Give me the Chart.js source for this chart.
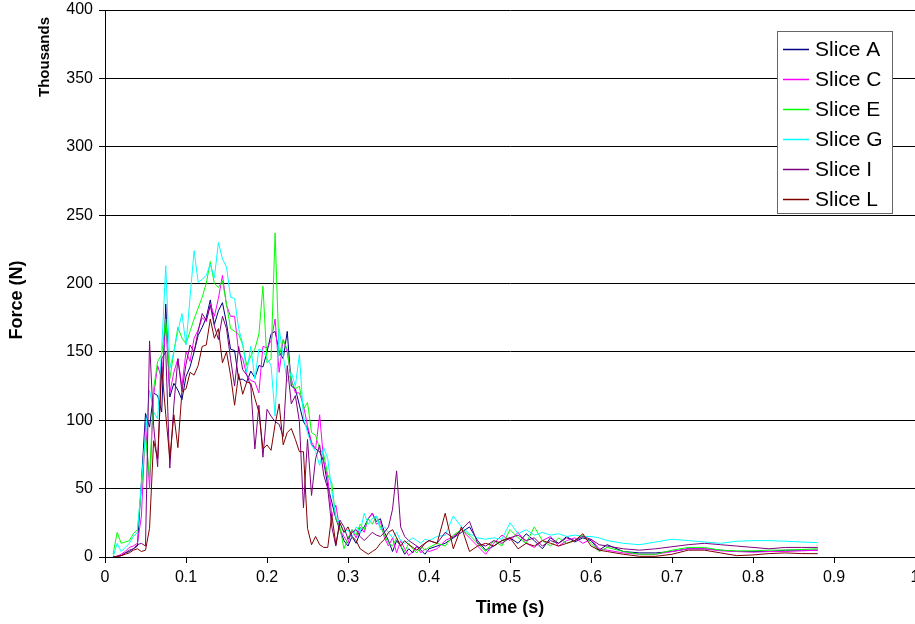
<!DOCTYPE html>
<html>
<head>
<meta charset="utf-8">
<title>Force vs time</title>
<script src="https://cdn.jsdelivr.net/npm/chart.js@4"></script>
<style>
  html, body { margin: 0; padding: 0; background: #fff; overflow: hidden; }
  #wrap { width: 915px; height: 624px; }
</style>
</head>
<body>
<div id="wrap"><canvas id="forceChart"></canvas></div>
<script>
// time (s)
const time = [
  0.010, 0.015, 0.020, 0.025, 0.030, 0.035, 0.040, 0.045, 0.050, 0.055,
  0.060, 0.065, 0.070, 0.075, 0.080, 0.085, 0.090, 0.095, 0.100, 0.105,
  0.110, 0.115, 0.120, 0.125, 0.130, 0.135, 0.140, 0.145, 0.150, 0.155,
  0.160, 0.165, 0.170, 0.175, 0.180, 0.185, 0.190, 0.195, 0.200, 0.205,
  0.210, 0.215, 0.220, 0.225, 0.230, 0.235, 0.240, 0.245, 0.250, 0.255,
  0.260, 0.265, 0.270, 0.275, 0.280, 0.285, 0.290, 0.295, 0.300, 0.305,
  0.310, 0.315, 0.320, 0.325, 0.330, 0.335, 0.340, 0.345, 0.350, 0.355,
  0.360, 0.365, 0.370, 0.375, 0.380, 0.385, 0.390, 0.395, 0.400,
  0.41, 0.42, 0.43, 0.44, 0.45, 0.46, 0.47, 0.48, 0.49, 0.50, 0.51,
  0.52, 0.53, 0.54, 0.55, 0.56, 0.57, 0.58, 0.59, 0.60, 0.61, 0.62,
  0.64, 0.66, 0.68, 0.70, 0.72, 0.74, 0.76, 0.78, 0.80, 0.82, 0.84, 0.86, 0.88
];

// force, thousands of N
const sliceA = [
  0, 0.5, 1, 3, 4, 6, 8, 55, 105, 95,
  120, 118, 106, 185, 117, 127, 122, 115, 132, 139,
  150, 162, 168, 175, 188, 170, 180, 186, 171, 152,
  151, 130, 130, 128, 136, 131, 140, 139, 150, 163,
  165, 150, 145, 165, 125, 123, 111, 99, 94, 82,
  79, 77, 70, 52, 40, 28, 20, 12, 8, 15,
  10, 18, 22, 28, 32, 26, 28, 18, 12, 4,
  12, 8, 2, 6, 3, 8, 5, 2, 6,
  8, 10, 14, 18, 22, 12, 5, 8, 12, 14, 10,
  17, 12, 6, 14, 10, 15, 11, 14, 12, 5, 9,
  4, 3, 3, 4, 6, 6, 5, 4, 4, 4, 5, 5, 5
];
const sliceC = [
  0, 0.5, 2, 4, 7, 8, 10, 30, 98, 50,
  118, 140, 130, 170, 120, 135, 145, 125, 150, 143,
  160, 166, 175, 172, 185, 176, 189, 206, 184, 176,
  176, 150, 145, 133, 129, 128, 120, 154, 153, 158,
  174, 135, 159, 150, 130, 120, 120, 111, 96, 84,
  79, 104, 70, 58, 30, 38, 20, 15, 10, 20,
  14, 22, 18, 28, 32, 24, 26, 14, 8, 14,
  3, 12, 6, 1, 4, 8, 3, 6, 4,
  6, 12, 15, 20, 14, 8, 2, 10, 16, 12, 18,
  10, 7, 12, 15, 8, 12, 14, 10, 13, 6, 5,
  3, 2, 2, 4, 6, 6, 4.5, 4, 3.5, 4, 4, 4.5, 5
];
const sliceE = [
  2, 18, 10, 11, 12, 17, 20, 50, 89, 57,
  123, 143, 148, 174, 130, 150, 168, 160, 156, 165,
  174, 182, 190, 200, 216, 200, 197, 202, 185, 167,
  165, 163, 155, 140, 147, 152, 163, 198, 142, 145,
  237, 147, 159, 152, 128, 123, 125, 108, 113, 91,
  89, 79, 75, 60, 54, 28, 22, 6, 14, 20,
  16, 24, 20, 28, 24, 30, 22, 16, 10, 8,
  14, 8, 4, 10, 6, 3, 8, 5, 7,
  10, 8, 16, 20, 16, 10, 4, 12, 8, 20, 14,
  10, 22, 12, 8, 14, 10, 12, 16, 10, 4, 7,
  4, 2, 2, 5, 7, 7, 5, 4.5, 4.5, 5, 5, 5.5, 6
];
const sliceG = [
  0, 10, 4, 7, 10, 15, 18, 55, 90, 122,
  106, 101, 152, 213, 138, 150, 165, 178, 155, 190,
  224, 201, 203, 206, 214, 204, 230, 218, 212, 190,
  189, 167, 156, 135, 154, 130, 152, 151, 145, 140,
  103, 167, 147, 128, 135, 125, 148, 103, 91, 82,
  77, 67, 80, 72, 48, 30, 25, 18, 20, 14,
  22, 18, 32, 24, 28, 30, 20, 22, 18, 14,
  18, 12, 10, 12, 14, 12, 10, 13, 12,
  15, 16, 30, 22, 17, 14, 13, 14, 13, 25, 17,
  20, 16, 18, 16, 17, 15, 16, 15, 15, 14, 12,
  10, 9, 11, 13, 12, 11, 10, 11.5, 12, 12, 11.5, 11, 10.5
];
const sliceI = [
  0, 0.5, 1, 3, 5, 6, 9, 10, 8, 158,
  96, 66, 145, 150, 65, 111, 145, 121, 141, 155,
  150, 165, 178, 173, 184, 169, 159, 176, 167, 145,
  125, 154, 137, 133, 125, 79, 111, 73, 108, 103,
  99, 97, 88, 140, 112, 118, 99, 36, 86, 45,
  72, 82, 60, 50, 22, 8, 27, 22, 13, 18,
  20, 15, 12, 15, 18, 16, 15, 18, 22, 35,
  63, 22, 15, 12, 10, 8, 6, 10, 12,
  10, 18, 14, 20, 26, 10, 8, 12, 10, 14, 16,
  12, 14, 8, 12, 10, 14, 12, 15, 13, 9, 8,
  6, 5, 6, 7.5, 9, 10, 9, 8, 7, 6, 7, 7, 7
];
const sliceL = [
  0, 0.5, 1, 2, 3, 5, 6, 4, 5, 21,
  85, 72, 139, 104, 72, 104, 80, 121, 123, 135,
  133, 140, 154, 155, 174, 160, 167, 142, 150, 133,
  111, 134, 119, 128, 127, 116, 106, 79, 82, 78,
  97, 112, 82, 91, 94, 86, 77, 77, 21, 9,
  15, 9, 7, 7, 31, 9, 25, 18, 22, 15,
  12, 6, 4, 2, 4, 6, 10, 13, 18, 20,
  14, 8, 12, 9, 7, 5, 8, 10, 12,
  10, 32, 6, 22, 4, 8, 10, 8, 12, 14, 6,
  10, 8, 12, 10, 8, 10, 12, 17, 8, 5, 4,
  2, 0.5, 0.5, 2, 5, 5, 3, 1, 1.5, 2.5, 3, 2.5, 2.4
];

const seriesNames = ['Slice A', 'Slice C', 'Slice E', 'Slice G', 'Slice I', 'Slice L'];
const seriesValues = [sliceA, sliceC, sliceE, sliceG, sliceI, sliceL];
const seriesColors = ['#000080', '#FF00FF', '#00FF00', '#00FFFF', '#800080', '#800000'];

const xTickLabels = ['0', '0.1', '0.2', '0.3', '0.4', '0.5', '0.6', '0.7', '0.8', '0.9', '1'];
const yTickLabels = ['0', '50', '100', '150', '200', '250', '300', '350', '400'];

const FONT = '"Liberation Sans", Arial, sans-serif';
Chart.defaults.font.family = FONT;
Chart.defaults.color = '#000';

// extra texts + boxed legend drawn inside the plot, like the original
const overlay = {
    id: 'overlay',
    afterDraw(chart) {
        const ctx = chart.ctx;

        ctx.save();
        ctx.fillStyle = '#000';
        ctx.textAlign = 'center';
        ctx.textBaseline = 'middle';
        ctx.font = 'bold 15px ' + FONT;
        ctx.translate(45, 57);
        ctx.rotate(-Math.PI / 2);
        ctx.fillText('Thousands', 0, 0);
        ctx.restore();

        ctx.save();
        ctx.fillStyle = '#000';
        ctx.textAlign = 'center';
        ctx.textBaseline = 'middle';
        ctx.font = 'bold 18px ' + FONT;
        ctx.translate(17, 300);
        ctx.rotate(-Math.PI / 2);
        ctx.fillText('Force (N)', 0, 0);
        ctx.restore();

        // legend box
        const bx = 777.5, by = 31.5, bw = 115, bh = 182;
        ctx.save();
        ctx.fillStyle = '#fff';
        ctx.fillRect(bx, by, bw, bh);
        ctx.strokeStyle = '#666';
        ctx.lineWidth = 1;
        ctx.strokeRect(bx, by, bw, bh);
        ctx.font = '21px ' + FONT;
        ctx.textAlign = 'left';
        ctx.textBaseline = 'middle';
        ctx.lineWidth = 1.5;
        chart.data.datasets.forEach((ds, i) => {
            const y = Math.round(49 + i * 30) + 0.5;
            ctx.strokeStyle = seriesColors[i];
            ctx.beginPath();
            ctx.moveTo(783, y);
            ctx.lineTo(809, y);
            ctx.stroke();
            ctx.fillStyle = '#000';
            ctx.fillText(ds.label, 815, y + 1);
        });
        ctx.restore();
    }
};

const datasets = seriesNames.map((name, i) => ({
    label: name,
    data: time.map((t, j) => ({ x: t, y: seriesValues[i][j] })),
    borderColor: seriesColors[i],
    backgroundColor: seriesColors[i],
    borderWidth: 1,
    pointRadius: 0,
    tension: 0,
    fill: false,
    order: seriesNames.length - i   // later slices drawn on top
}));

new Chart(document.getElementById('forceChart'), {
    type: 'line',
    data: { datasets },
    options: {
        responsive: true,
        maintainAspectRatio: false,
        animation: false,
        layout: { padding: { top: 10, left: 0, right: 0, bottom: 0 } },
        plugins: {
            legend: { display: false },
            tooltip: { enabled: false }
        },
        scales: {
            x: {
                type: 'linear',
                min: 0,
                max: 1,
                ticks: {
                    stepSize: 0.1,
                    autoSkip: false,
                    maxRotation: 0,
                    padding: 5,
                    color: '#000',
                    font: { size: 16 },
                    callback: (v) => xTickLabels[Math.round(v * 10)]
                },
                grid: { drawOnChartArea: false, drawTicks: true, tickLength: 6, color: '#000' },
                border: { color: '#000' },
                title: {
                    display: true,
                    text: 'Time (s)',
                    color: '#000',
                    font: { size: 18, weight: 'bold' },
                    padding: { top: 0, bottom: 5 }
                },
                afterFit: (scale) => {
                    scale.height = 67;
                    scale.paddingRight = 0;   // let the last label run off the edge
                }
            },
            y: {
                type: 'linear',
                min: 0,
                max: 400,
                ticks: {
                    stepSize: 50,
                    padding: 6,
                    color: '#000',
                    font: { size: 16 },
                    callback: (v) => yTickLabels[Math.round(v / 50)]
                },
                grid: { color: '#000', tickLength: 6 },
                border: { color: '#000' },
                afterFit: (scale) => {
                    scale.width = 105;
                    scale.paddingTop = 0;
                    scale.paddingBottom = 0;
                }
            }
        }
    },
    plugins: [overlay]
});
</script>
</body>
</html>
